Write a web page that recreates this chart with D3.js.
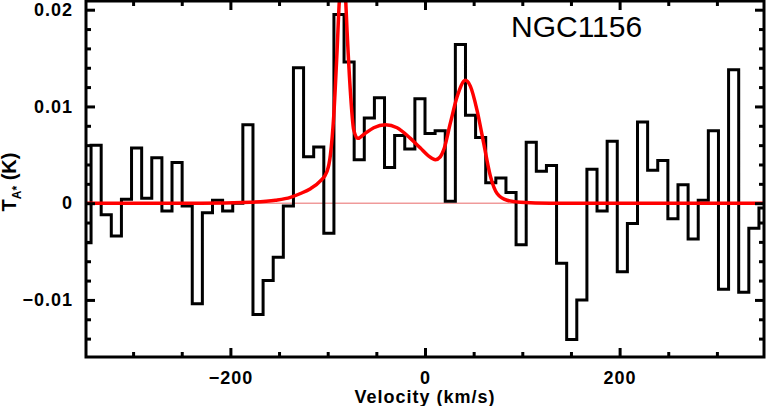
<!DOCTYPE html>
<html lang="en">
<head>
<meta charset="UTF-8">
<title>NGC1156 spectrum</title>
<script src="https://d3js.org/d3.v7.min.js"></script>
<style>
  body { margin: 0; background: #fff; }
  .tick text { font: bold 18px "Liberation Sans", Arial, sans-serif; letter-spacing: 1px; fill: #000; }
  .tick line { stroke: #000; stroke-width: 3; }
  .domain { display: none; }
</style>
</head>
<body>
<div id="chart"></div>
<script>
var width = 766, height = 406;

// channel velocities (km/s)
var velocity = [-348.4, -338.0, -327.6, -317.2, -306.8, -296.4, -286.0, -275.6, -265.2, -254.8,
  -244.4, -234.0, -223.6, -213.2, -202.8, -192.4, -182.0, -171.6, -161.2, -150.8,
  -140.4, -130.0, -119.6, -109.2, -98.8, -88.4, -78.0, -67.6, -57.2, -46.8,
  -36.4, -26.0, -15.6, -5.2, 5.2, 15.6, 26.0, 36.4, 46.8, 57.2,
  67.6, 78.0, 88.4, 98.8, 109.2, 119.6, 130.0, 140.4, 150.8, 161.2,
  171.6, 182.0, 192.4, 202.8, 213.2, 223.6, 234.0, 244.4, 254.8, 265.2,
  275.6, 286.0, 296.4, 306.8, 317.2, 327.6, 338.0, 348.4];

// antenna temperature per channel (K)
var tempK = [-0.0041, 0.0060, -0.0012, -0.0034, 0.0004, 0.0057, 0.0005, 0.0047, -0.0008, 0.0042,
  -0.0003, -0.0104, -0.0010, 0.0003, -0.0008, 0.0000, 0.0081, -0.0115, -0.0080, -0.0056,
  -0.0003, 0.0140, 0.0048, 0.0058, -0.0031, 0.0195, 0.0146, 0.0045, 0.0088, 0.0109,
  0.0037, 0.0070, 0.0056, 0.0108, 0.0072, 0.0075, 0.0002, 0.0164, 0.0091, 0.0068,
  0.0021, 0.0026, 0.0011, -0.0043, 0.0063, 0.0033, 0.0039, -0.0062, -0.0141, -0.0100,
  0.0035, -0.0008, 0.0064, -0.0071, -0.0021, 0.0084, 0.0034, 0.0044, -0.0016, 0.0019,
  -0.0037, 0.0003, 0.0075, -0.0089, 0.0138, -0.0092, -0.0026, -0.0005];

// fitted profile
var fitV = [-348.4, -230.7, -179.4, -153.7, -138.3, -128.0, -117.7, -107.5, -100.6, -97.2,
  -93.8, -90.3, -88.0, -84.9, -81.8, -80.0, -76.6, -73.3, -69.1, -63.0,
  -52.7, -40.7, -28.7, -15.0, -4.7, 3.5, 10.7, 15.8, 19.2, 26.1,
  33.0, 41.5, 46.6, 53.5, 60.3, 67.2, 74.1, 84.4, 98.0, 128.8, 348.4];
var fitT = [0, 0, 0.0001, 0.0003, 0.0006, 0.0010, 0.0015, 0.0023, 0.0033, 0.0050,
  0.0090, 0.0159, 0.0210, 0.0240, 0.0215, 0.0176, 0.0114, 0.0076, 0.0067, 0.0071,
  0.0078, 0.0081, 0.0078, 0.0067, 0.0057, 0.0049, 0.0045, 0.0048, 0.0055, 0.0083,
  0.0110, 0.0127, 0.0121, 0.0096, 0.0062, 0.0028, 0.0010, 0.0003, 0.0001, 0, 0];

var xMajor = [-200, 0, 200];
var xMinor = [-300, -250, -150, -100, -50, 50, 100, 150, 250, 300];
var yMajor = [-0.01, 0, 0.01, 0.02];
var yMinor = [-0.014, -0.012, -0.008, -0.006, -0.004, -0.002, 0.002, 0.004, 0.006, 0.008,
  0.012, 0.014, 0.016, 0.018];

var pLeft = 86, pRight = 764, pTop = 1, pBottom = 357;

var svg = d3.select("#chart").append("svg")
    .attr("width", width)
    .attr("height", height);

var x = d3.scaleLinear().domain([-348.4, 348.4]).range([pLeft, pRight]);
var y = d3.scaleLinear().domain([-0.0159, 0.0209]).range([pBottom, pTop]);

svg.append("clipPath").attr("id", "plotclip")
  .append("rect")
    .attr("x", pLeft).attr("y", pTop)
    .attr("width", pRight - pLeft).attr("height", pBottom - pTop);

var plot = svg.append("g").attr("clip-path", "url(#plotclip)");

// zero line
plot.append("line")
    .attr("x1", pLeft).attr("x2", pRight)
    .attr("y1", y(0)).attr("y2", y(0))
    .attr("stroke", "#e86a6a")
    .attr("stroke-width", 1);

var spec = velocity.map(function(v, i) { return [v, tempK[i]]; });
plot.append("path")
    .datum(spec)
    .attr("fill", "none")
    .attr("stroke", "#000")
    .attr("stroke-width", 3)
    .attr("d", d3.line()
      .x(function(d) { return x(d[0]); })
      .y(function(d) { return y(d[1]); })
      .curve(d3.curveStep));

var fit = fitV.map(function(v, i) { return [v, fitT[i]]; });
plot.append("path")
    .datum(fit)
    .attr("fill", "none")
    .attr("stroke", "#ff0000")
    .attr("stroke-width", 3.5)
    .attr("d", d3.line()
      .x(function(d) { return x(d[0]); })
      .y(function(d) { return y(d[1]); })
      .curve(d3.curveMonotoneX));

// axes, ticks pointing inward
var yfmt = function(d) { return d === 0 ? "0" : d3.format(".2f")(d); };

svg.append("g").attr("transform", "translate(0," + pBottom + ")")
    .call(d3.axisBottom(x).tickValues(xMajor).tickSize(-9).tickSizeOuter(0).tickPadding(14));
svg.append("g").attr("transform", "translate(0," + pBottom + ")")
    .call(d3.axisBottom(x).tickValues(xMinor).tickSize(-5).tickSizeOuter(0).tickFormat(""));
svg.append("g").attr("transform", "translate(0," + pTop + ")")
    .call(d3.axisTop(x).tickValues(xMajor).tickSize(-9).tickSizeOuter(0).tickFormat(""));
svg.append("g").attr("transform", "translate(0," + pTop + ")")
    .call(d3.axisTop(x).tickValues(xMinor).tickSize(-5).tickSizeOuter(0).tickFormat(""));

svg.append("g").attr("transform", "translate(" + pLeft + ",0)")
    .call(d3.axisLeft(y).tickValues(yMajor).tickSize(-9).tickSizeOuter(0).tickPadding(13).tickFormat(yfmt));
svg.append("g").attr("transform", "translate(" + pLeft + ",0)")
    .call(d3.axisLeft(y).tickValues(yMinor).tickSize(-5).tickSizeOuter(0).tickFormat(""));
svg.append("g").attr("transform", "translate(" + pRight + ",0)")
    .call(d3.axisRight(y).tickValues(yMajor).tickSize(-9).tickSizeOuter(0).tickFormat(""));
svg.append("g").attr("transform", "translate(" + pRight + ",0)")
    .call(d3.axisRight(y).tickValues(yMinor).tickSize(-5).tickSizeOuter(0).tickFormat(""));

// frame
svg.append("rect")
    .attr("x", pLeft).attr("y", pTop)
    .attr("width", pRight - pLeft).attr("height", pBottom - pTop)
    .attr("fill", "none")
    .attr("stroke", "#000")
    .attr("stroke-width", 3);

// labels
svg.append("text")
    .attr("x", x(0)).attr("y", 403)
    .attr("text-anchor", "middle")
    .style("font", "bold 18px 'Liberation Sans', Arial, sans-serif")
    .style("letter-spacing", "1px")
    .text("Velocity (km/s)");

var ylab = svg.append("text")
    .attr("transform", "translate(16,182) rotate(-90)")
    .attr("text-anchor", "middle")
    .style("font", "bold 20px 'Liberation Sans', Arial, sans-serif");
ylab.append("tspan").text("T");
ylab.append("tspan").attr("dy", 5).style("font-size", "12px").text("A*");
ylab.append("tspan").attr("dy", -5).text("\u00a0(K)");

svg.append("text")
    .attr("x", 511).attr("y", 37)
    .style("font", "30px 'Liberation Sans', Arial, sans-serif")
    .text("NGC1156");
</script>
</body>
</html>
